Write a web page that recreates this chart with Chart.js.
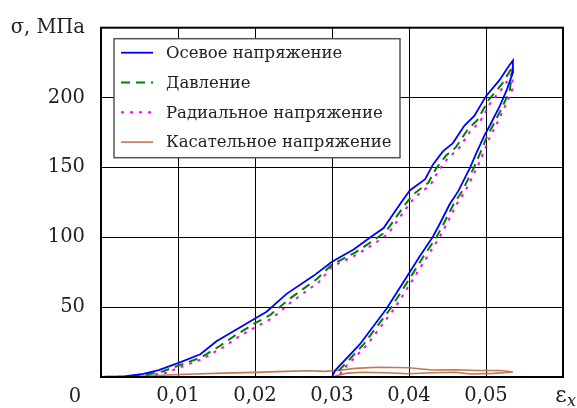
<!DOCTYPE html>
<html>
<head>
<meta charset="utf-8">
<script src="https://cdn.jsdelivr.net/npm/chart.js@4/dist/chart.umd.min.js"></script>
<style>
  html, body { margin: 0; padding: 0; background: #fff; }
  #wrap { width: 577px; height: 408px; }
</style>
</head>
<body>
<div id="wrap"><canvas id="stressChart" width="577" height="408"></canvas></div>
<script>
// strain (x) and stress (MPa), loading then unloading
const axialX = [0, 0.0030, 0.0055, 0.0075, 0.0100, 0.0129, 0.0150, 0.0172, 0.0199, 0.0215, 0.0241, 0.0276, 0.0300, 0.0328, 0.0349, 0.0367, 0.0390, 0.0401, 0.0421, 0.0431, 0.0444, 0.0457, 0.0472, 0.0485, 0.0500, 0.0518, 0.0529, 0.0535,
  0.0535, 0.0527, 0.0518, 0.0505, 0.0498, 0.0488, 0.0479, 0.0464, 0.0453, 0.0440, 0.0431, 0.0414, 0.0398, 0.0371, 0.0336, 0.0304, 0.0300];
const axialY = [0, 0.5, 2.3, 5, 9.9, 16.3, 25.6, 32.7, 41.5, 46.7, 59.5, 72.4, 82.5, 91.3, 99.6, 106.6, 125, 133.5, 141.6, 152, 161.5, 167.4, 180, 187, 201, 212.8, 222, 226.5,
  218, 205.5, 194, 180, 173, 161, 149.5, 133, 123.8, 109.7, 100.4, 86.4, 72.4, 49, 23.3, 4.6, 0];

const pressureX = [0, 0.0030, 0.0060, 0.0080, 0.0100, 0.0130, 0.0155, 0.0175, 0.0200, 0.0220, 0.0245, 0.0280, 0.0300, 0.0330, 0.0352, 0.0370, 0.0393, 0.0405, 0.0425, 0.0435, 0.0448, 0.0461, 0.0476, 0.0489, 0.0503, 0.0521, 0.0531, 0.0535,
  0.0531, 0.0522, 0.0509, 0.0502, 0.0493, 0.0484, 0.0469, 0.0458, 0.0445, 0.0436, 0.0419, 0.0403, 0.0376, 0.0341, 0.0309, 0.0305];
const pressureY = [0, 0.3, 1.8, 4, 8, 14, 22.5, 30, 38.5, 44.5, 56, 70, 80.5, 89, 97, 104, 122, 130.5, 139, 149, 158.5, 164.5, 177, 184, 198, 210, 219, 223,
  205.5, 194, 180, 173, 161, 149.5, 133, 123.8, 109.7, 100.4, 86.4, 72.4, 49, 23.3, 4.6, 0];

const radialX = [0, 0.0030, 0.0065, 0.0085, 0.0100, 0.0130, 0.0158, 0.0178, 0.0200, 0.0222, 0.0248, 0.0283, 0.0300, 0.0332, 0.0355, 0.0373, 0.0396, 0.0408, 0.0428, 0.0438, 0.0451, 0.0464, 0.0479, 0.0492, 0.0506, 0.0524, 0.0533, 0.0535,
  0.0534, 0.0525, 0.0513, 0.0506, 0.0497, 0.0488, 0.0473, 0.0462, 0.0449, 0.0440, 0.0424, 0.0408, 0.0381, 0.0346, 0.0313, 0.0309];
const radialY = [0, 0.2, 1.5, 3, 6.5, 12.5, 21, 28.5, 35.5, 42, 54, 68, 79, 87.5, 95.5, 102.5, 120.5, 129, 137.5, 147.5, 157, 163, 175.5, 182.5, 196.5, 208.5, 217, 220.5,
  205.5, 194, 180, 173, 161, 149.5, 133, 123.8, 109.7, 100.4, 86.4, 72.4, 49, 23.3, 4.6, 0];

const shearX = [0, 0.0040, 0.0080, 0.0120, 0.0160, 0.0200, 0.0240, 0.0270, 0.0290, 0.0310, 0.0330, 0.0360, 0.0400, 0.0430, 0.0460, 0.0490, 0.0520, 0.0535,
  0.0510, 0.0480, 0.0460, 0.0430, 0.0400, 0.0370, 0.0340, 0.0320, 0.0306, 0.0302];
const shearY = [0, 0.3, 1.2, 2.2, 2.8, 3.3, 4.0, 4.5, 4.0, 4.8, 6.2, 7.0, 6.6, 5.0, 5.2, 4.6, 4.6, 3.6,
  2.6, 2.2, 3.4, 3.0, 2.3, 3.0, 3.4, 2.8, 1.0, 0];

const seriesNames = ['Осевое напряжение', 'Давление', 'Радиальное напряжение', 'Касательное напряжение'];
const yTicks = [0, 50, 100, 150, 200, 250];
const xTicks = [0, 0.01, 0.02, 0.03, 0.04, 0.05, 0.06];

// only serif face available in the sandbox
const FONT = '"DejaVu Serif", serif';
const TICK_SIZE = 19.5;

function pts(xs, ys) {
  return xs.map((x, i) => ({ x: x, y: ys[i] }));
}

// legend box, origin label and axis symbol drawn on the canvas
const extrasPlugin = {
  id: 'extras',
  afterDraw(chart) {
    const ctx = chart.ctx;
    const area = chart.chartArea;
    ctx.save();

    // frame
    ctx.strokeStyle = '#000';
    ctx.lineWidth = 2;
    ctx.strokeRect(area.left, area.top, area.right - area.left, area.bottom - area.top);

    // legend
    const bx = area.left + 13, by = area.top + 11, bw = 286, bh = 119;
    ctx.fillStyle = '#fff';
    ctx.fillRect(bx, by, bw, bh);
    ctx.strokeStyle = '#555';
    ctx.lineWidth = 1.5;
    ctx.strokeRect(bx, by, bw, bh);
    ctx.font = '16.5px ' + FONT;
    ctx.textBaseline = 'middle';
    ctx.textAlign = 'left';
    chart.data.datasets.forEach((ds, i) => {
      const yy = by + 14 + i * 29.8;
      ctx.beginPath();
      ctx.strokeStyle = ds.borderColor;
      ctx.lineWidth = ds.borderWidth;
      ctx.setLineDash(ds.borderDash || []);
      ctx.moveTo(bx + 7, yy);
      ctx.lineTo(bx + 39, yy);
      ctx.stroke();
      ctx.setLineDash([]);
      ctx.fillStyle = '#222';
      ctx.fillText(ds.label, bx + 52, yy + 1);
    });

    // origin label
    ctx.font = TICK_SIZE + 'px ' + FONT;
    ctx.fillStyle = '#222';
    ctx.textAlign = 'center';
    ctx.textBaseline = 'alphabetic';
    ctx.fillText('0', area.left - 26, area.bottom + 25);

    // axis symbol εx
    const ex = chart.scales.x.getPixelForValue(0.06);
    ctx.font = '22px ' + FONT;
    ctx.textAlign = 'center';
    ctx.fillText('ε', ex - 2, area.bottom + 25);
    ctx.font = 'italic 16px ' + FONT;
    ctx.textAlign = 'left';
    ctx.fillText('x', ex + 4, area.bottom + 29);
    ctx.restore();
  }
};

const chart = new Chart(document.getElementById('stressChart'), {
  type: 'scatter',
  data: {
    datasets: [
      {
        label: seriesNames[0],
        data: pts(axialX, axialY),
        showLine: true,
        borderColor: '#0000ff',
        borderWidth: 1.8,
        pointRadius: 0,
        order: 0
      },
      {
        label: seriesNames[1],
        data: pts(pressureX, pressureY),
        showLine: true,
        borderColor: '#008000',
        borderWidth: 2,
        borderDash: [9, 6],
        pointRadius: 0,
        order: 1
      },
      {
        label: seriesNames[2],
        data: pts(radialX, radialY),
        showLine: true,
        borderColor: '#ff00ff',
        borderWidth: 2,
        borderDash: [3, 6],
        pointRadius: 0,
        order: 2
      },
      {
        label: seriesNames[3],
        data: pts(shearX, shearY),
        showLine: true,
        borderColor: '#c07850',
        borderWidth: 1.6,
        pointRadius: 0,
        order: 3
      }
    ]
  },
  options: {
    responsive: false,
    animation: false,
    layout: { padding: { left: 0, right: 14, top: 20, bottom: 0 } },
    plugins: {
      legend: { display: false },
      tooltip: { enabled: false }
    },
    scales: {
      x: {
        type: 'linear',
        min: xTicks[0],
        max: xTicks[xTicks.length - 1],
        afterBuildTicks: function(scale) {
          scale.ticks = xTicks.map(v => ({ value: v }));
        },
        afterFit: function(scale) { scale.height = 31; },
        grid: { color: '#000', lineWidth: 1, drawTicks: false },
        border: { display: true, color: '#000', width: 2 },
        ticks: {
          padding: 7,
          color: '#222',
          font: { family: FONT, size: TICK_SIZE },
          maxRotation: 0,
          callback: function(v) {
            if (v === 0 || v > 0.055) return '';
            return v.toFixed(2).replace('.', ',');
          }
        }
      },
      y: {
        type: 'linear',
        min: yTicks[0],
        max: yTicks[yTicks.length - 1],
        afterBuildTicks: function(scale) {
          scale.ticks = yTicks.map(v => ({ value: v }));
        },
        afterFit: function(scale) { scale.width = 101; },
        grid: { color: '#000', lineWidth: 1, drawTicks: false },
        border: { display: true, color: '#000', width: 2 },
        ticks: {
          padding: 16,
          color: '#222',
          font: { family: FONT, size: TICK_SIZE },
          callback: function(v) {
            if (v === 0) return '';
            if (v === 250) return 'σ, МПа';
            return String(v);
          }
        }
      }
    }
  },
  plugins: [extrasPlugin]
});
</script>
</body>
</html>
